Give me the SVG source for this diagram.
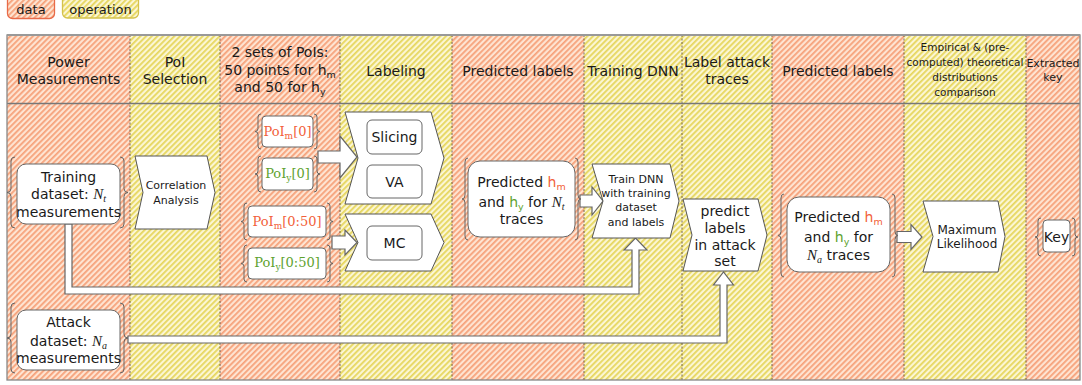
<svg xmlns="http://www.w3.org/2000/svg" width="1082" height="385" viewBox="0 0 1082 385">
<defs>
<pattern id="hO" width="4" height="4" patternUnits="userSpaceOnUse" patternTransform="rotate(45)">
<rect width="4" height="4" fill="#fee4d2"/>
<rect width="1.8" height="4" fill="#f6a27b"/>
</pattern>
<pattern id="hY" width="4" height="4" patternUnits="userSpaceOnUse" patternTransform="rotate(45)">
<rect width="4" height="4" fill="#fbf6d4"/>
<rect width="1.8" height="4" fill="#e6d65e"/>
</pattern>
<style>
.t14{font-family:"DejaVu Sans",sans-serif;font-size:14px;fill:#1a1a1a;text-anchor:middle}
.t13{font-family:"DejaVu Sans",sans-serif;font-size:13px;fill:#1a1a1a;text-anchor:middle}
.t12{font-family:"DejaVu Sans",sans-serif;font-size:12px;fill:#1a1a1a;text-anchor:middle}
.t11{font-family:"DejaVu Sans",sans-serif;font-size:11px;fill:#1a1a1a;text-anchor:middle}
.t10{font-family:"DejaVu Sans",sans-serif;font-size:10.5px;fill:#1a1a1a;text-anchor:middle}
.sub{font-size:9.5px}
.om{fill:#f25f3a}
.gy{fill:#5ea22e}
.math{font-family:"Liberation Serif","DejaVu Serif",serif;font-style:italic;font-size:15px}
.msub{font-family:"Liberation Serif","DejaVu Serif",serif;font-style:italic;font-size:10px}
.poi{font-family:"DejaVu Serif",serif;font-size:13px;text-anchor:middle;font-variant-numeric:oldstyle-nums}
.poisub{font-size:9px}
.box{fill:#fff;stroke:#666;stroke-width:1}
.brace{fill:none;stroke:#666;stroke-width:1}
.step{fill:#fff;stroke:#555;stroke-width:1}
.arr{fill:#fff;stroke:#666;stroke-width:1.2}
.sep{stroke:#5a4a3a;stroke-width:0.8;stroke-dasharray:2 1.5}
</style>
</defs>

<g id="legend">
<rect x="7.5" y="-6" width="47" height="24.5" rx="5" fill="url(#hO)" stroke="#e86a48" stroke-width="1.3"/>
<text class="t13" x="31" y="13.5">data</text>
<rect x="62.5" y="-6" width="76" height="24" rx="5" fill="url(#hY)" stroke="#d4c24c" stroke-width="1.3"/>
<text class="t13" x="100.5" y="13.5">operation</text>
</g>

<g id="table">
<rect x="7" y="35" width="123" height="345" fill="url(#hO)"/>
<rect x="130" y="35" width="90" height="345" fill="url(#hY)"/>
<rect x="220" y="35" width="120" height="345" fill="url(#hO)"/>
<rect x="340" y="35" width="112" height="345" fill="url(#hY)"/>
<rect x="452" y="35" width="132" height="345" fill="url(#hO)"/>
<rect x="584" y="35" width="98" height="345" fill="url(#hY)"/>
<rect x="682" y="35" width="90" height="345" fill="url(#hY)"/>
<rect x="772" y="35" width="132" height="345" fill="url(#hO)"/>
<rect x="904" y="35" width="122" height="345" fill="url(#hY)"/>
<rect x="1026" y="35" width="54" height="345" fill="url(#hO)"/>
<g>
<line class="sep" x1="130" y1="35" x2="130" y2="380"/>
<line class="sep" x1="220" y1="35" x2="220" y2="380"/>
<line class="sep" x1="340" y1="35" x2="340" y2="380"/>
<line class="sep" x1="452" y1="35" x2="452" y2="380"/>
<line class="sep" x1="584" y1="35" x2="584" y2="380"/>
<line class="sep" x1="682" y1="35" x2="682" y2="380"/>
<line class="sep" x1="772" y1="35" x2="772" y2="380"/>
<line class="sep" x1="904" y1="35" x2="904" y2="380"/>
<line class="sep" x1="1026" y1="35" x2="1026" y2="380"/>
</g>
<line x1="7" y1="103.5" x2="1080" y2="103.5" stroke="#777" stroke-width="1.3"/>
<rect x="7" y="35" width="1073" height="345" fill="none" stroke="#888" stroke-width="1.3"/>
<line x1="7" y1="35" x2="1080" y2="35" stroke="#999" stroke-width="2"/>

<text class="t14" x="68.5" y="67">Power</text>
<text class="t14" x="68.5" y="84">Measurements</text>
<text class="t14" x="175" y="67">PoI</text>
<text class="t14" x="175" y="84">Selection</text>
<text class="t14" x="280" y="57">2 sets of PoIs:</text>
<text class="t14" x="280" y="75">50 points for h<tspan class="sub" dy="3">m</tspan></text>
<text class="t14" x="280" y="92">and 50 for h<tspan class="sub" dy="3">y</tspan></text>
<text class="t14" x="396" y="76">Labeling</text>
<text class="t14" x="518" y="76">Predicted labels</text>
<text class="t14" x="633" y="76">Training DNN</text>
<text class="t14" x="727" y="67">Label attack</text>
<text class="t14" x="727" y="84">traces</text>
<text class="t14" x="838" y="76">Predicted labels</text>
<text class="t10" x="965" y="51">Empirical &amp; (pre-</text>
<text class="t10" x="965" y="66">computed) theoretical</text>
<text class="t10" x="965" y="81">distributions</text>
<text class="t10" x="965" y="96">comparison</text>
<text class="t11" x="1053" y="67">Extracted</text>
<text class="t11" x="1053" y="81">key</text>
</g>

<g id="connectors">
<polygon class="arr" points="65,224 65,294 639,294 639,250 647,250 635.5,238 624,250 632,250 632,287 72,287 72,224"/>
<polygon class="arr" points="128,336 720,336 720,285 713.5,285 723.5,272 733.5,285 727,285 727,343 128,343"/>
<polygon class="arr" points="318,151 340,151 340,136 357,157 340,178 340,163 318,163"/>
<polygon class="arr" points="332,236 345,236 345,230 357,242.5 345,255 345,249 332,249"/>
<polygon class="arr" points="580,195 592,195 592,187 603,201 592,215 592,207 580,207"/>
<polygon class="arr" points="897,231.5 911,231.5 911,224.5 922,237 911,249.5 911,242.5 897,242.5"/>
</g>

<g id="training-dataset">
<rect class="box" x="17" y="164" width="103" height="60" rx="9"/>
<path class="brace" d="M15,157 Q11,157 11,161 L11,188.5 Q11,192.5 7,192.5 Q11,192.5 11,196.5 L11,224 Q11,228 15,228"/>
<path class="brace" d="M120,157 Q124,157 124,161 L124,188.5 Q124,192.5 128,192.5 Q124,192.5 124,196.5 L124,224 Q124,228 120,228"/>
<text class="t14" x="68.5" y="182">Training</text>
<text class="t14" x="68.5" y="199">dataset: <tspan class="math">N</tspan><tspan class="msub" dy="3">t</tspan></text>
<text class="t14" x="68.5" y="217">measurements</text>
</g>

<g id="attack-dataset">
<rect class="box" x="17" y="310" width="103" height="60" rx="9"/>
<path class="brace" d="M15,303 Q11,303 11,307 L11,334 Q11,338 7,338 Q11,338 11,342 L11,369 Q11,373 15,373"/>
<path class="brace" d="M120,303 Q124,303 124,307 L124,334 Q124,338 128,338 Q124,338 124,342 L124,369 Q124,373 120,373"/>
<text class="t14" x="68.5" y="327">Attack</text>
<text class="t14" x="68.5" y="346">dataset: <tspan class="math">N</tspan><tspan class="msub" dy="3">a</tspan></text>
<text class="t14" x="68.5" y="363">measurements</text>
</g>

<g id="correlation-analysis">
<polygon class="step" points="135,156 207,156 215,192.5 207,229 135,229 143,192.5"/>
<text class="t11" x="176" y="189">Correlation</text>
<text class="t11" x="176" y="204">Analysis</text>
</g>

<g id="poi-m0">
<rect class="box" x="262" y="116" width="51" height="31" rx="4"/>
<path class="brace" d="M261,114 Q258,114 258,117 L258,128.5 Q258,131.5 255,131.5 Q258,131.5 258,134.5 L258,146 Q258,149 261,149"/>
<path class="brace" d="M314,114 Q317,114 317,117 L317,128.5 Q317,131.5 320,131.5 Q317,131.5 317,134.5 L317,146 Q317,149 314,149"/>
<text class="poi om" x="287.5" y="135.5">PoI<tspan class="poisub" dy="3">m</tspan><tspan dy="-3">[0]</tspan></text>
</g>
<g id="poi-y0">
<rect class="box" x="262" y="158" width="51" height="32" rx="4"/>
<path class="brace" d="M261,156 Q258,156 258,159 L258,171 Q258,174 255,174 Q258,174 258,177 L258,189 Q258,192 261,192"/>
<path class="brace" d="M314,156 Q317,156 317,159 L317,171 Q317,174 320,174 Q317,174 317,177 L317,189 Q317,192 314,192"/>
<text class="poi gy" x="287.5" y="178">PoI<tspan class="poisub" dy="3">y</tspan><tspan dy="-3">[0]</tspan></text>
</g>
<g id="poi-m050">
<rect class="box" x="248" y="206" width="78" height="31" rx="4"/>
<path class="brace" d="M247,203 Q244,203 244,206 L244,218.5 Q244,221.5 241,221.5 Q244,221.5 244,224.5 L244,237 Q244,240 247,240"/>
<path class="brace" d="M327,203 Q330,203 330,206 L330,218.5 Q330,221.5 333,221.5 Q330,221.5 330,224.5 L330,237 Q330,240 327,240"/>
<text class="poi om" x="287" y="225.5">PoI<tspan class="poisub" dy="3">m</tspan><tspan dy="-3">[0:50]</tspan></text>
</g>
<g id="poi-y050">
<rect class="box" x="248" y="248" width="78" height="31" rx="4"/>
<path class="brace" d="M247,245 Q244,245 244,248 L244,260.5 Q244,263.5 241,263.5 Q244,263.5 244,266.5 L244,279 Q244,282 247,282"/>
<path class="brace" d="M327,245 Q330,245 330,248 L330,260.5 Q330,263.5 333,263.5 Q330,263.5 330,266.5 L330,279 Q330,282 327,282"/>
<text class="poi gy" x="287" y="267">PoI<tspan class="poisub" dy="3">y</tspan><tspan dy="-3">[0:50]</tspan></text>
</g>

<g id="labeling-upper">
<polygon class="step" points="345,112 431,112 444,158 431,204 345,204 358,158"/>
<rect class="box" x="367" y="120" width="55" height="34" rx="5"/>
<text class="t14" x="394.5" y="142">Slicing</text>
<rect class="box" x="367" y="165" width="55" height="33" rx="5"/>
<text class="t14" x="394.5" y="186.5">VA</text>
</g>
<g id="labeling-lower">
<polygon class="step" points="345,214 431,214 444,242.5 431,271 345,271 358,242.5"/>
<rect class="box" x="367" y="226" width="55" height="34" rx="5"/>
<text class="t14" x="394.5" y="248">MC</text>
</g>

<g id="predicted-train">
<rect class="box" x="468" y="161" width="107" height="76" rx="12"/>
<path class="brace" d="M468,158 Q465,158 465,162 L465,195 Q465,199 462,199 Q465,199 465,203 L465,236 Q465,240 468,240"/>
<path class="brace" d="M575,158 Q578,158 578,162 L578,195 Q578,199 581,199 Q578,199 578,203 L578,236 Q578,240 575,240"/>
<text class="t14" x="521.5" y="187">Predicted <tspan class="om">h</tspan><tspan class="om sub" dy="3">m</tspan></text>
<text class="t14" x="521.5" y="206.5">and <tspan class="gy">h</tspan><tspan class="gy sub" dy="3">y</tspan><tspan dy="-3"> for </tspan><tspan class="math">N</tspan><tspan class="msub" dy="3">t</tspan></text>
<text class="t14" x="521.5" y="224">traces</text>
</g>

<g id="train-dnn">
<polygon class="step" points="592,164 670,164 679,201 670,238 592,238 603,201"/>
<text class="t11" x="636" y="183">Train DNN</text>
<text class="t11" x="636" y="197">with training</text>
<text class="t11" x="636" y="211">dataset</text>
<text class="t11" x="636" y="226">and labels</text>
</g>

<g id="predict-attack">
<polygon class="step" points="683,199 758,199 767,235 758,271 683,271 692,235"/>
<text class="t14" x="725" y="216">predict</text>
<text class="t14" x="725" y="233">labels</text>
<text class="t14" x="725" y="250">in attack</text>
<text class="t14" x="725" y="266">set</text>
</g>

<g id="predicted-attack">
<rect class="box" x="787" y="197" width="103" height="75" rx="12"/>
<path class="brace" d="M784,194 Q781,194 781,198 L781,231.5 Q781,235.5 778,235.5 Q781,235.5 781,239.5 L781,273 Q781,277 784,277"/>
<path class="brace" d="M892,194 Q895,194 895,198 L895,231.5 Q895,235.5 898,235.5 Q895,235.5 895,239.5 L895,273 Q895,277 892,277"/>
<text class="t14" x="838.5" y="222">Predicted <tspan class="om">h</tspan><tspan class="om sub" dy="3">m</tspan></text>
<text class="t14" x="838.5" y="242">and <tspan class="gy">h</tspan><tspan class="gy sub" dy="3">y</tspan><tspan dy="-3"> for</tspan></text>
<text class="t14" x="838.5" y="260"><tspan class="math">N</tspan><tspan class="msub" dy="3">a</tspan><tspan dy="-3"> traces</tspan></text>
</g>

<g id="maximum-likelihood">
<polygon class="step" points="923,201 998,201 1005,236.5 998,272 923,272 933,236.5"/>
<text class="t12" x="967" y="234">Maximum</text>
<text class="t12" x="967" y="248">Likelihood</text>
</g>

<g id="key">
<rect class="box" x="1043" y="220" width="27" height="32" rx="4"/>
<path class="brace" d="M1041,218 Q1038,218 1038,221 L1038,234 Q1038,237 1035,237 Q1038,237 1038,240 L1038,253 Q1038,256 1041,256"/>
<path class="brace" d="M1072,218 Q1075,218 1075,221 L1075,234 Q1075,237 1078,237 Q1075,237 1075,240 L1075,253 Q1075,256 1072,256"/>
<text class="t14" x="1056.5" y="242">Key</text>
</g>
</svg>
